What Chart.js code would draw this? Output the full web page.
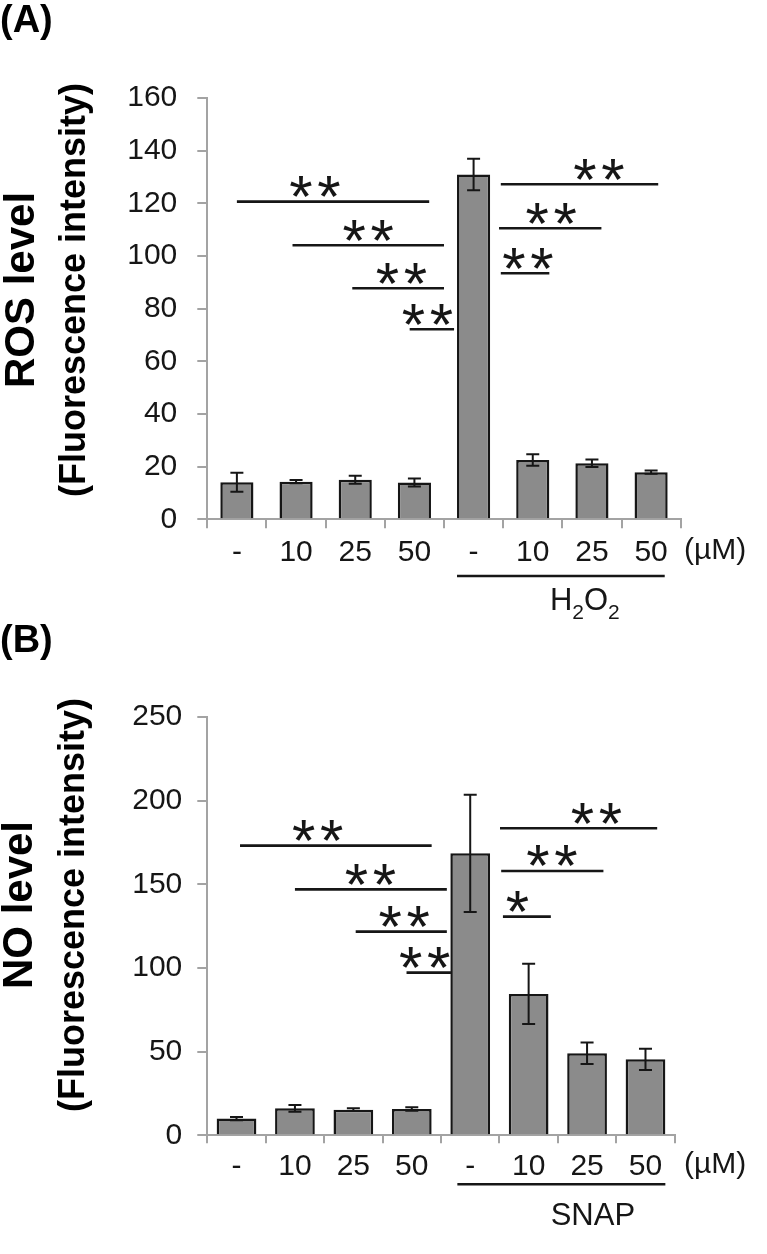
<!DOCTYPE html>
<html>
<head>
<meta charset="utf-8">
<script src="https://cdn.jsdelivr.net/npm/chart.js@4.4.0/dist/chart.umd.min.js"></script>
<style>
    body { margin: 0; background: #fff; width: 767px; height: 1254px; overflow: hidden; }
    canvas { position: absolute; left: 0; }
</style>
</head>
<body>
<canvas id="chartA" width="767" height="630" style="top:0"></canvas>
<canvas id="chartB" width="767" height="654" style="top:600px"></canvas>
<script>
// doses (µM) on the x axis, same for both panels
const doseLabels = ['-', '10', '25', '50', '-', '10', '25', '50'];

// (A) ROS level, mean and error
const rosMean = [14.1, 14.3, 15.0, 14.0, 131.0, 22.5, 21.3, 17.9];
const rosErr = [3.6, 0.6, 1.5, 1.5, 6.0, 2.2, 1.4, 0.6];
const rosTicks = [0, 20, 40, 60, 80, 100, 120, 140, 160];

// (B) NO level, mean and error
const noMean = [10.0, 16.1, 15.3, 15.7, 168.5, 84.5, 49.0, 45.4];
const noErr = [1.0, 2.0, 0.8, 1.0, 35.0, 18.0, 6.4, 6.4];
const noTicks = [0, 50, 100, 150, 200, 250];

// significance brackets: from / to (category index), height (data units), star position, mark
const rosSigFrom = [0.0, 0.94, 1.95, 2.92, 4.46, 4.43, 4.46];
const rosSigTo = [3.25, 3.5, 3.5, 3.67, 7.12, 6.16, 5.28];
const rosSigY = [120.7, 104.1, 87.8, 72.2, 127.3, 110.6, 93.5];
const rosSigStar = [1.32, 2.22, 2.78, 3.22, 6.12, 5.31, 4.92];
const rosSigMark = ['**', '**', '**', '**', '**', '**', '**'];

const noSigFrom = [0.06, 1.0, 2.04, 2.91, 4.51, 4.53, 4.56];
const noSigTo = [3.34, 3.6, 3.6, 3.67, 7.2, 6.28, 5.38];
const noSigY = [173.1, 147.0, 121.7, 97.2, 183.5, 158.0, 130.7];
const noSigStar = [1.39, 2.29, 2.87, 3.22, 6.16, 5.40, 4.81];
const noSigMark = ['**', '**', '**', '**', '**', '**', '*'];

const FONT = '"Liberation Sans", Arial, sans-serif';
const AXIS_GREY = '#a3a3a3';
const INK = '#161616';

function extras(spec) {
    return {
        id: 'extras' + spec.letter,
        afterDatasetsDraw(chart) {
            const ctx = chart.ctx;
            const x = chart.scales.x;
            const y = chart.scales.y;
            ctx.save();

            // error bars
            ctx.strokeStyle = INK;
            ctx.lineWidth = 2;
            spec.mean.forEach(function (m, i) {
                let px = x.getPixelForValue(i);
                let top = y.getPixelForValue(m + spec.err[i]);
                let bot = y.getPixelForValue(m - spec.err[i]);
                ctx.beginPath();
                ctx.moveTo(px, top); ctx.lineTo(px, bot);
                ctx.moveTo(px - 6.5, top); ctx.lineTo(px + 6.5, top);
                ctx.moveTo(px - 6.5, bot); ctx.lineTo(px + 6.5, bot);
                ctx.stroke();
            });

            // significance lines + stars
            ctx.lineWidth = 2.6;
            ctx.fillStyle = INK;
            ctx.font = '60px ' + FONT;
            let m = ctx.measureText('*');
            let midOff = (m.actualBoundingBoxDescent - m.actualBoundingBoxAscent) / 2;
            ctx.textAlign = 'center';
            ctx.textBaseline = 'alphabetic';
            spec.sigFrom.forEach(function (f, i) {
                let py = y.getPixelForValue(spec.sigY[i]);
                ctx.beginPath();
                ctx.moveTo(x.getPixelForValue(f), py);
                ctx.lineTo(x.getPixelForValue(spec.sigTo[i]), py);
                ctx.stroke();
                let sx = x.getPixelForValue(spec.sigStar[i]);
                let mark = spec.sigMark[i];
                for (let k = 0; k < mark.length; k++) {
                    let cx = sx + (k - (mark.length - 1) / 2) * 28;
                    ctx.fillText('*', cx, py - 15 - midOff);
                }
            });

            // panel letter
            ctx.fillStyle = '#000';
            ctx.textAlign = 'left';
            ctx.font = 'bold 38px ' + FONT;
            ctx.fillText(spec.letter, 0, spec.letterBase);

            // y titles (rotated)
            ctx.save();
            ctx.translate(spec.titleX, spec.titleMid);
            ctx.rotate(-Math.PI / 2);
            ctx.textAlign = 'center';
            ctx.font = 'bold 42px ' + FONT;
            ctx.fillText(spec.title, 0, 0);
            ctx.restore();

            ctx.save();
            ctx.translate(spec.subX, spec.titleMid);
            ctx.rotate(-Math.PI / 2);
            ctx.textAlign = 'center';
            ctx.font = 'bold 36px ' + FONT;
            ctx.fillText('(Fluorescence intensity)', 0, 0);
            ctx.restore();

            // unit
            ctx.fillStyle = INK;
            ctx.font = '30px ' + FONT;
            ctx.textAlign = 'left';
            ctx.textBaseline = 'middle';
            ctx.fillText('(\u00b5M)', 684, spec.unitY);

            // treatment bracket and name
            ctx.strokeStyle = INK;
            ctx.lineWidth = 2.5;
            ctx.beginPath();
            ctx.moveTo(x.getPixelForValue(spec.treatFrom), spec.treatLineY);
            ctx.lineTo(x.getPixelForValue(spec.treatTo), spec.treatLineY);
            ctx.stroke();
            ctx.textBaseline = 'alphabetic';
            spec.drawTreat(ctx, x.getPixelForValue(spec.treatMid), spec.treatBase);

            ctx.restore();
        }
    };
}

function drawH2O2(ctx, cx, base) {
    let big = '31px ' + FONT, small = '21px ' + FONT;
    let parts = [['H', big, 0], ['2', small, 9], ['O', big, 0], ['2', small, 9]];
    let total = 0;
    parts.forEach(function (p) { ctx.font = p[1]; total += ctx.measureText(p[0]).width; });
    let px = cx - total / 2;
    ctx.textAlign = 'left';
    parts.forEach(function (p) {
        ctx.font = p[1];
        ctx.fillText(p[0], px, base + p[2]);
        px += ctx.measureText(p[0]).width;
    });
}

function drawSNAP(ctx, cx, base) {
    ctx.font = '31px ' + FONT;
    ctx.textAlign = 'center';
    ctx.fillText('SNAP', cx, base);
}

function buildPanel(id, spec) {
    let step = spec.ticks[1] - spec.ticks[0];
    return new Chart(document.getElementById(id), {
        type: 'bar',
        data: {
            labels: doseLabels,
            datasets: [{
                data: spec.mean,
                backgroundColor: '#8b8b8b',
                borderColor: INK,
                borderWidth: 2.5,
                barPercentage: spec.barPct,
                categoryPercentage: 1
            }]
        },
        options: {
            responsive: false,
            animation: false,
            layout: {padding: {top: spec.top, right: spec.right, left: 0, bottom: 0}},
            plugins: {legend: {display: false}, tooltip: {enabled: false}},
            scales: {
                x: {
                    grid: {drawOnChartArea: false, offset: true, tickLength: spec.xTickLen, color: AXIS_GREY, lineWidth: 2},
                    border: {color: AXIS_GREY, width: 2},
                    ticks: {font: {family: FONT, size: 30}, color: INK, padding: spec.xPad, autoSkip: false, maxRotation: 0},
                    afterFit: function (s) { s.height = spec.xHeight; }
                },
                y: {
                    min: spec.ticks[0],
                    max: spec.ticks[spec.ticks.length - 1],
                    grid: {drawOnChartArea: false, tickLength: 10, color: AXIS_GREY, lineWidth: 2},
                    border: {color: AXIS_GREY, width: 2},
                    ticks: {stepSize: step, font: {family: FONT, size: 30}, color: INK, padding: spec.yPad},
                    afterFit: function (s) { s.width = 207.3; }
                }
            }
        },
        plugins: [extras(spec)]
    });
}

buildPanel('chartA', {
    letter: '(A)', letterBase: 32,
    mean: rosMean, err: rosErr, ticks: rosTicks,
    sigFrom: rosSigFrom, sigTo: rosSigTo, sigY: rosSigY, sigStar: rosSigStar, sigMark: rosSigMark,
    title: 'ROS level', titleX: 34, subX: 85, titleMid: 290,
    top: 98.2, right: 86.3, xHeight: 630 - 519.3, xTickLen: 9, xPad: 6, yPad: 20,
    barPct: 0.56,
    unitY: 551, treatFrom: 3.72, treatTo: 7.23, treatLineY: 576,
    treatMid: 5.88, treatBase: 610, drawTreat: drawH2O2
});

buildPanel('chartB', {
    letter: '(B)', letterBase: 52,
    mean: noMean, err: noErr, ticks: noTicks,
    sigFrom: noSigFrom, sigTo: noSigTo, sigY: noSigY, sigStar: noSigStar, sigMark: noSigMark,
    title: 'NO level', titleX: 32, subX: 84, titleMid: 305,
    top: 117, right: 92.3, xHeight: 654 - 535.3, xTickLen: 8, xPad: 5, yPad: 15,
    barPct: 0.68,
    unitY: 565, treatFrom: 3.78, treatTo: 7.34, treatLineY: 584.3,
    treatMid: 6.1, treatBase: 625, drawTreat: drawSNAP
});
</script>
</body>
</html>
